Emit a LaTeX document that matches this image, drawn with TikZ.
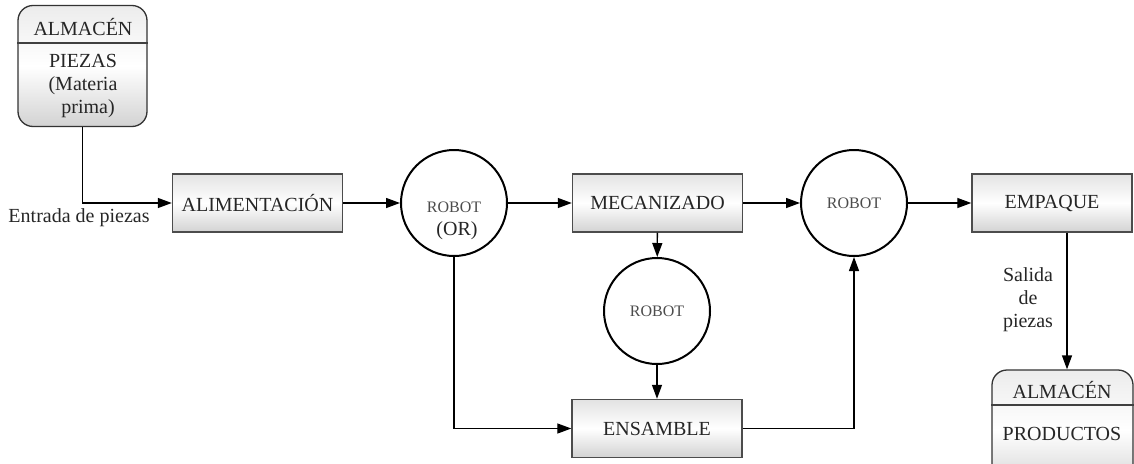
\documentclass[tikz,border=0pt]{standalone}
\usepackage{fontspec}
\setmainfont{Liberation Serif}
\usetikzlibrary{arrows.meta}
\begin{document}
\begin{tikzpicture}[x=1pt,y=-1pt,
  procbox/.style={draw=black!70, line width=1.4pt, top color=gray!22, bottom color=gray!35, middle color=white,
    minimum width=170pt, minimum height=58pt, inner sep=0pt, font=\fontsize{20}{23}\selectfont, text=black!85},
  store/.style={draw=black!80, line width=1.3pt, rounded corners=15pt, top color=gray!15, bottom color=gray!35, middle color=white, inner sep=0pt},
  robot/.style={circle, draw=black, line width=2pt, fill=white, minimum size=106pt, inner sep=0pt,
    font=\fontsize{16}{18}\selectfont, text=black!70},
  big/.style={font=\fontsize{20}{23}\selectfont, text=black!85},
  arr/.style={line width=1.3pt, -{Triangle[length=14pt,width=10pt]}},
  ln/.style={line width=1.3pt}
]
\useasboundingbox (0,0) rectangle (1134,463);
\clip (0,0) rectangle (1134,463);

% storage boxes
\node[store, minimum width=129pt, minimum height=121pt] (alm1) at (82.5,66) {};
\draw[line width=1.2pt, black!75] (alm1.west |- 0,43) -- (alm1.east |- 0,43);
\node[big] (alm1t) at (83,27) {ALMACÉN};
\node[big, align=center] (alm1b) at (83,86) {PIEZAS\\(Materia\\\hspace{10pt}prima)};

\node[store, minimum width=141pt, minimum height=120pt] (alm2) at (1062.5,430) {};
\draw[line width=1.2pt, black!75] (alm2.west |- 0,405) -- (alm2.east |- 0,405);
\node[big] (alm2t) at (1062,390) {ALMACÉN};
\node[big] (alm2b) at (1062,434) {PRODUCTOS};

% process boxes
\node[procbox] (ali) at (257.5,203) {ALIMENTACIÓN};
\node[procbox] (mec) at (657.5,203) {MECANIZADO};
\node[procbox, minimum width=160pt] (emp) at (1052,203) {EMPAQUE};
\node[procbox] (ens) at (657,428.5) {ENSAMBLE};

% robots
\node[robot] (r1) at (454,203) {};
\node[anchor=base, font=\fontsize{16}{18}\selectfont, text=black!70] (r1a) at (454,212) {ROBOT};
\node[anchor=base, big] (r1b) at (457,235.5) {(OR)};
\node[robot] (r2) at (854,203) {ROBOT};
\node[robot] (r3) at (657,311) {ROBOT};

% labels
\node[big] (entrada) at (79,218) {Entrada de piezas};
\node[big, align=center] (salida) at (1028,300) {Salida\\de\\piezas};

% connectors
\draw[arr] (alm1.south) |- (ali.west);
\draw[arr] (ali) -- (r1);
\draw[arr] (r1) -- (mec);
\draw[arr] (mec) -- (r2);
\draw[arr] (r2) -- (emp);
\draw[arr] (mec) -- (r3);
\draw[arr] (r3) -- (ens);
\draw[arr] (r1.south) |- (ens.west);
\draw[arr] (ens.east) -| (r2.south);
\draw[arr] ([xshift=15pt]emp.south) -- ([xshift=15pt]emp.south |- alm2.north);
\end{tikzpicture}
\end{document}
